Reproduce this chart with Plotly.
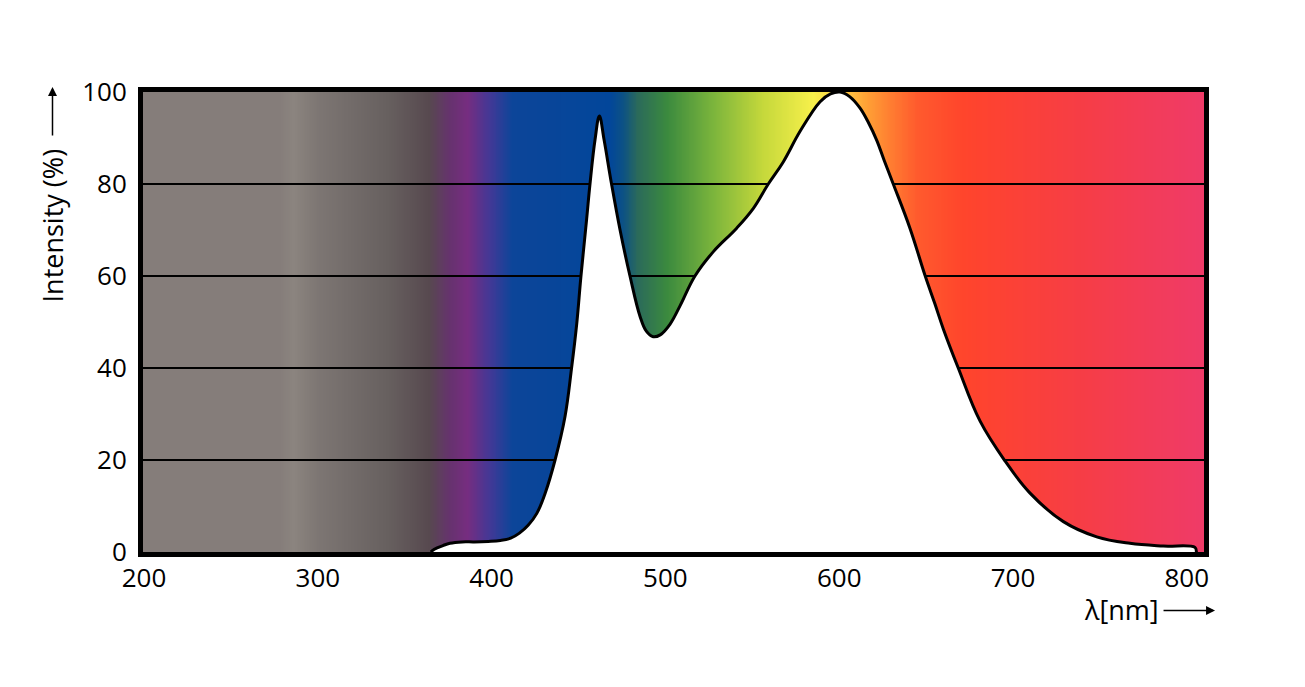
import numpy as np
import plotly.graph_objects as go

# LED emission spectrum
wavelength = [365, 367, 372, 376, 383, 390, 398, 405, 411, 416, 421, 426, 431,
              436.5, 442.2, 446, 449, 451.4, 454.7, 456.6, 459.5, 462,
              464.7, 469, 473.9, 479.6, 485.4, 489, 493, 497, 502.6, 508.4,
              517, 527.6, 541, 550.6, 559.2, 567.8, 577.4, 589, 595, 600.5,
              606, 612, 617, 621.6, 626, 631.1, 640.7, 649.4, 655, 659.9, 668.5,
              681, 695.4, 709.8, 729, 748.2, 767.3, 786.5, 804.7, 805.5]
intensity = [0, 0.6, 1.4, 1.9, 2.2, 2.2, 2.3, 2.5, 3.0, 4.1, 5.8, 8.4, 13,
             20, 29.4, 40, 49.7, 60, 72.5, 80, 89.6, 94.8,
             89.6, 80, 70, 60, 51.2, 48, 46.8, 47.2, 49.5, 53.5,
             60, 65.3, 70.4, 74.7, 80, 84.8, 91.4, 97.9, 99.6, 100,
             99.0, 96.5, 93.2, 89.5, 85.0, 80, 70.4, 60.1, 54, 48.5, 40,
             28.5, 19.8, 12.8, 6.6, 3.3, 1.9, 1.3, 1.0, 0]

# background colour band
band_nm = [199, 278, 286, 300, 340, 364, 376, 386, 399, 412, 468, 476, 484,
           501, 527, 556, 585, 606, 616, 630, 645, 671, 681, 740, 810]
band_colors = ['#857d7a', '#857d7a', '#8b847f', '#7d7673', '#67605f', '#57494f',
               '#66326e', '#762d80', '#423896', '#0c4599', '#02469a', '#0d5283',
               '#2b6a5a', '#3b8a3e', '#7ab43c', '#c5d83b', '#f7f04b', '#ffc040',
               '#ffa035', '#ff7c31', '#ff5a2d', '#ff452c', '#fe432f', '#f63d46',
               '#ef3b68']

x_ticks = [200, 300, 400, 500, 600, 700, 800]
y_ticks = [0, 20, 40, 60, 80, 100]
x_range = [199.4, 809.9]

lo, hi = band_nm[0], band_nm[-1]
scale = [[(w - lo) / (hi - lo), c] for w, c in zip(band_nm, band_colors)]

bx = np.arange(lo, hi + 0.5, 0.5)
fig = go.Figure()
fig.add_trace(go.Heatmap(x=bx, y=[0, 100], z=[bx, bx], zmin=lo, zmax=hi,
                         colorscale=scale, showscale=False, hoverinfo='skip'))

# grid lines have to sit on the colour band but under the white area
gx, gy = [], []
for t in y_ticks[1:-1]:
    gx += [x_range[0], x_range[1], None]
    gy += [t, t, None]
fig.add_trace(go.Scatter(x=gx, y=gy, mode='lines', line=dict(color='black', width=2),
                         hoverinfo='skip', showlegend=False))

fig.add_trace(go.Scatter(x=wavelength, y=intensity, mode='lines', fill='tozeroy',
                         fillcolor='white', line=dict(color='black', width=3, shape='spline',
                                                       smoothing=1.1),
                         showlegend=False))

# page body has an 8px margin, so the figure is 8px smaller than the window
fig.update_layout(
    width=1297, height=679,
    margin=dict(l=135, r=101, t=84, b=135),
    plot_bgcolor='white', paper_bgcolor='white',
    font=dict(family='Open Sans', size=26, color='black'),
    showlegend=False,
    xaxis=dict(range=x_range, tickvals=x_ticks, showgrid=False, zeroline=False,
               showline=True, mirror=True, linecolor='black', linewidth=5,
               ticks='', ticklabelstandoff=-1),
    yaxis=dict(range=[0, 100], tickvals=y_ticks, showgrid=False, zeroline=False,
               showline=True, mirror=True, linecolor='black', linewidth=5,
               ticks='', ticklabelstandoff=6),
)

fig.add_annotation(text='Intensity (%)', xref='paper', yref='paper', x=-0.0853, y=0.711,
                   xanchor='center', yanchor='middle', textangle=-90, showarrow=False,
                   font=dict(family='Open Sans', size=27))
fig.add_annotation(text='', xref='paper', yref='paper', x=-0.0853, y=1.011,
                   ax=0, ay=50, showarrow=True, arrowhead=2, arrowsize=1.2,
                   arrowwidth=1.5, arrowcolor='black')
fig.add_annotation(text='λ[nm]', xref='paper', yref='paper', x=0.9227, y=-0.124,
                   xanchor='center', yanchor='middle', showarrow=False,
                   font=dict(family='Open Sans', size=27))
fig.add_annotation(text='', xref='paper', yref='paper', x=1.0104, y=-0.127,
                   ax=-53, ay=0, showarrow=True, arrowhead=2, arrowsize=1.2,
                   arrowwidth=1.5, arrowcolor='black')

fig.write_html("out.html")
